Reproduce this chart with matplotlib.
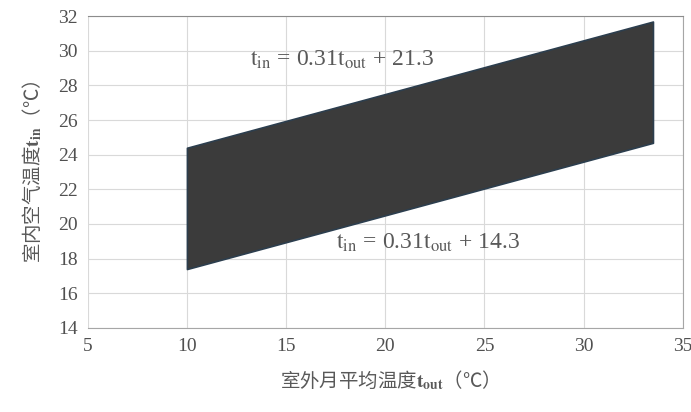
import matplotlib
matplotlib.use("Agg")
import matplotlib.pyplot as plt
import numpy as np

# band limits: t_in = slope * t_out + intercept
t_out = [10, 33.5]
slope = 0.31
upper_b = 21.3
lower_b = 14.3
x_ticks = [5, 10, 15, 20, 25, 30, 35]
y_ticks = [14, 16, 18, 20, 22, 24, 26, 28, 30, 32]

plt.rcParams['font.family'] = ['Liberation Serif', 'Noto Sans CJK SC']
plt.rcParams['mathtext.fontset'] = 'stix'

x = np.array(t_out)
upper = slope * x + upper_b
lower = slope * x + lower_b

fig = plt.figure(figsize=(6.91, 4.12), dpi=100)
ax = fig.add_axes([0.127, 0.204, 0.861, 0.757])

ax.fill_between(x, lower, upper, facecolor='#3b3b3b', edgecolor='#2c3e4e', linewidth=1.2, zorder=3)

ax.set_xlim(5, 35)
ax.set_ylim(14, 32)
ax.set_xticks(x_ticks)
ax.set_yticks(y_ticks)
ax.grid(True, color='#d9d9d9', linewidth=0.8, zorder=0)
ax.set_axisbelow(True)
ax.tick_params(length=0, labelsize=14, labelcolor='#505050', pad=7)

ax.spines['left'].set_visible(False)
ax.spines['top'].set_color('#8c8c8c')
ax.spines['bottom'].set_color('#a6a6a6')
ax.spines['right'].set_color('#a6a6a6')

cjk = 'Noto Sans CJK SC'
ax.set_xlabel('室外月平均温度$\\mathbf{t_{out}}$（℃）', fontsize=14, color='#595959',
              labelpad=10, family=cjk)
ax.set_ylabel('室内空气温度$\\mathbf{t_{in}}$（℃）', fontsize=14, color='#595959',
              labelpad=10, family=cjk)

ax.text(13.2, 29.5, '$\\mathrm{t_{in}}$ = 0.31$\\mathrm{t_{out}}$ + 21.3', fontsize=17,
        color='#595959', va='center')
ax.text(17.5, 18.9, '$\\mathrm{t_{in}}$ = 0.31$\\mathrm{t_{out}}$ + 14.3', fontsize=17,
        color='#595959', va='center')

fig.savefig('out.png', dpi=100)
